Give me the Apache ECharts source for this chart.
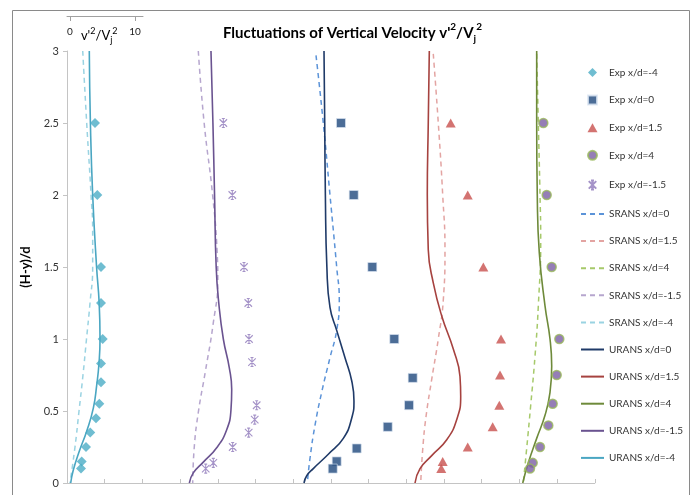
<!DOCTYPE html>
<html><head><meta charset="utf-8">
<script src="https://cdn.jsdelivr.net/npm/echarts@6.0.0/dist/echarts.min.js"></script>
<style>html,body{margin:0;padding:0;background:#fff}#c{width:694px;height:495px}</style>
</head><body><div id="c"></div>
<script>
// x: position along the horizontal axis in v'^2/Vj^2 units (each station shifted), y: (H-y)/d
const yTicks = [0, 0.5, 1, 1.5, 2, 2.5, 3];

const expM4X = [4.31, 4.66, 5.23, 5.23, 5.49, 5.23, 5.23, 4.97, 4.46, 3.58, 2.92, 2.26, 2.15];
const expM4Y = [2.5, 2.0, 1.5, 1.25, 1.0, 0.83, 0.7, 0.55, 0.45, 0.35, 0.25, 0.15, 0.1];
const expM15X = [24.05, 25.43, 27.23, 27.89, 28.0, 28.46, 29.18, 28.88, 27.95, 25.49, 22.51, 21.34];
const expM15Y = [2.5, 2.0, 1.5, 1.25, 1.0, 0.84, 0.54, 0.44, 0.35, 0.25, 0.14, 0.1];
const exp0X = [42.15, 44.11, 46.97, 50.35, 53.18, 52.62, 49.34, 44.57, 41.49, 40.88];
const exp0Y = [2.5, 2.0, 1.5, 1.0, 0.73, 0.54, 0.39, 0.24, 0.15, 0.1];
const exp15X = [59.03, 61.65, 64.05, 66.77, 66.62, 66.51, 65.49, 61.65, 57.8, 57.58];
const exp15Y = [2.5, 2.0, 1.5, 1.0, 0.75, 0.54, 0.39, 0.25, 0.15, 0.1];
const exp4X = [73.28, 73.8, 74.57, 75.74, 75.34, 74.72, 74.05, 72.77, 71.65, 71.23];
const exp4Y = [2.5, 2.0, 1.5, 1.0, 0.75, 0.55, 0.4, 0.25, 0.14, 0.1];

const uransM4X = [3.43, 3.6, 3.95, 4.55, 4.95, 5.08, 4.92, 4.57, 4.05, 3.03, 1.89, 0.97, 0.57];
const uransM4Y = [3, 2.5, 2.0, 1.5, 1.25, 1.0, 0.83, 0.68, 0.52, 0.36, 0.22, 0.09, 0];
const sransM4X = [2.42, 3.03, 3.7, 3.95, 3.95, 3.54, 3.0, 2.46, 1.85, 1.23, 0.46];
const sransM4Y = [3, 2.5, 2.0, 1.75, 1.5, 1.25, 1.0, 0.75, 0.5, 0.25, 0];

const uransM15X = [22.15, 22.45, 22.7, 22.95, 23.35, 24.05, 24.97, 25.34, 25.23, 24.57, 23.03, 20.97, 19.43, 18.82];
const uransM15Y = [3, 2.5, 2.0, 1.5, 1.25, 1.0, 0.8, 0.65, 0.51, 0.37, 0.245, 0.145, 0.07, 0];
const sransM15X = [20.2, 21.1, 22.4, 23.1, 23.2, 22.5, 21.23, 20.2, 19.58, 19.34];
const sransM15Y = [3, 2.5, 2.0, 1.6, 1.41, 1.11, 0.76, 0.49, 0.25, 0];

const urans0X = [39.54, 39.65, 39.75, 39.98, 40.46, 41.49, 42.77, 43.8, 44.15, 43.8, 42.51, 40.2, 37.89, 36.88, 36.46];
const urans0Y = [3, 2.5, 2.0, 1.5, 1.22, 1.06, 0.87, 0.71, 0.57, 0.45, 0.31, 0.2, 0.1, 0.05, 0];
const srans0X = [38.31, 39.43, 40.46, 41.49, 41.89, 41.49, 40.46, 39.18, 38.15, 37.38, 36.97];
const srans0Y = [2.97, 2.5, 2.0, 1.5, 1.27, 1.06, 0.87, 0.63, 0.4, 0.17, 0];

const urans15X = [55.74, 55.58, 55.43, 55.58, 56.35, 57.65, 59.43, 60.46, 60.57, 59.95, 58.42, 56.11, 54.31, 53.54];
const urans15Y = [3, 2.5, 2.0, 1.62, 1.39, 1.16, 0.93, 0.74, 0.6, 0.44, 0.3, 0.19, 0.1, 0];
const srans15X = [56.35, 57.12, 57.8, 58.15, 57.89, 57.12, 56.11, 55.23, 54.72, 54.42];
const srans15Y = [2.98, 2.5, 2.0, 1.62, 1.27, 1.0, 0.72, 0.46, 0.23, 0];

const urans4X = [72.26, 72.26, 72.35, 72.66, 73.54, 74.31, 74.57, 74.31, 73.54, 72.26, 70.97, 70.11];
const urans4Y = [3, 2.5, 2.0, 1.6, 1.23, 1.0, 0.81, 0.63, 0.47, 0.31, 0.14, 0];
const srans4X = [72.26, 72.51, 72.77, 72.88, 72.51, 72.0, 71.34, 70.72, 70.2];
const srans4Y = [2.98, 2.5, 2.0, 1.69, 1.23, 0.88, 0.54, 0.24, 0];

const scaleTicks = [0, 10];

const legendOrder = ['Exp x/d=-4', 'Exp x/d=0', 'Exp x/d=1.5', 'Exp x/d=4', 'Exp x/d=-1.5',
  'SRANS x/d=0', 'SRANS x/d=1.5', 'SRANS x/d=4', 'SRANS x/d=-1.5', 'SRANS x/d=-4',
  'URANS x/d=0', 'URANS x/d=1.5', 'URANS x/d=4', 'URANS x/d=-1.5', 'URANS x/d=-4'];

const FONT = 'Lato';
const pairs = (xs, ys) => xs.map((x, i) => [x, ys[i]]);

function lineS(name, xs, ys, color, dashed) {
  return {
    type: 'line', name, data: pairs(xs, ys), symbol: 'none', showSymbol: false,
    smooth: 0.5, clip: false, z: 2,
    lineStyle: { color, width: dashed ? 1.5 : 1.6, type: dashed ? [5, 4] : 'solid' },
    itemStyle: { color }
  };
}
function scat(name, xs, ys, symbol, size, itemStyle) {
  return { type: 'scatter', name, data: pairs(xs, ys), symbol, symbolSize: size, symbolKeepAspect: true, itemStyle, clip: false, z: 4 };
}
const starPath = 'path://M0,0L10,10M10,0L0,10M5,-1L5,11M3,-1L7,-1M3,11L7,11';
const diamondPath = 'path://M5,0L10,5L5,10L0,5Z';
const squarePath = 'path://M0,0L10,0L10,10L0,10Z';
const trianglePath = 'path://M5,0L10,9L0,9Z';

const series = [
  lineS('SRANS x/d=0', srans0X, srans0Y, '#5B93D8', true),
  lineS('SRANS x/d=1.5', srans15X, srans15Y, '#E3A4A2', true),
  lineS('SRANS x/d=4', srans4X, srans4Y, '#A6C96A', true),
  lineS('SRANS x/d=-1.5', sransM15X, sransM15Y, '#B6A6CE', true),
  lineS('SRANS x/d=-4', sransM4X, sransM4Y, '#9AD3E2', true),
  lineS('URANS x/d=0', urans0X, urans0Y, '#1F3A68', false),
  lineS('URANS x/d=1.5', urans15X, urans15Y, '#A6423F', false),
  lineS('URANS x/d=4', urans4X, urans4Y, '#6E8A3A', false),
  lineS('URANS x/d=-1.5', uransM15X, uransM15Y, '#6A5390', false),
  lineS('URANS x/d=-4', uransM4X, uransM4Y, '#4AA6C2', false),
  scat('Exp x/d=-4', expM4X, expM4Y, diamondPath, 10, { color: '#4BACC6' }),
  scat('Exp x/d=0', exp0X, exp0Y, squarePath, 9, { color: '#1F497D', borderColor: '#DCE6F2', borderWidth: 0.8 }),
  scat('Exp x/d=1.5', exp15X, exp15Y, trianglePath, 10, { color: '#C8504D' }),
  scat('Exp x/d=4', exp4X, exp4Y, 'circle', 9, { color: '#7B5EA4', borderColor: '#9AB95C', borderWidth: 1.5 }),
  scat('Exp x/d=-1.5', expM15X, expM15Y, starPath, 9, { color: 'none', borderColor: '#8E78BA', borderWidth: 1.1 })
];

const legendData = legendOrder.map(n => n.startsWith('Exp')
  ? { name: n }
  : { name: n, itemStyle: { opacity: 0 } });

const option = {
  backgroundColor: '#fff',
  animation: false,
  textStyle: { fontFamily: FONT },
  title: {
    left: 218, top: 17,
    text: "{a|Fluctuations of Vertical Velocity v'}{s|2}{a|/V}{j|j}{s|2}",
    textStyle: {
      rich: {
        a: { fontFamily: FONT, fontSize: 15, fontWeight: 'bold', color: '#000', lineHeight: 22 },
        s: { fontFamily: FONT, fontSize: 10, fontWeight: 'bold', color: '#000', verticalAlign: 'top', lineHeight: 22 },
        j: { fontFamily: FONT, fontSize: 10, fontWeight: 'bold', color: '#000', verticalAlign: 'bottom', lineHeight: 22 }
      }
    }
  },
  graphic: [{
    type: 'rect', silent: true, z: -10,
    shape: { x: 12.5, y: 10.5, width: 677, height: 500 },
    style: { fill: 'none', stroke: '#8a8a8a', lineWidth: 1 }
  }],
  legend: {
    orient: 'vertical', left: 575, top: 62.5,
    itemWidth: 23, itemHeight: 9, itemGap: 17.1,
    data: legendData,
    textStyle: { fontFamily: FONT, fontSize: 10, color: '#333' }
  },
  grid: [
    { left: 67, top: 51, width: 527.8, height: 432 },
    { left: 67, top: 6, width: 76, height: 10 }
  ],
  xAxis: [{
    type: 'value', gridIndex: 0, position: 'top', min: 0, max: 81.2, interval: 5.8,
    axisLine: { show: true, lineStyle: { color: '#C4C4C4', width: 1 } },
    axisTick: { show: true, length: 4, lineStyle: { color: '#C4C4C4' } },
    axisLabel: { show: false }, splitLine: { show: false }
  }, {
    type: 'value', gridIndex: 1, position: 'bottom', min: -0.46, max: 11.23,
    axisLine: { show: true, lineStyle: { color: '#A0A0A0', width: 1 } },
    axisTick: { show: true, length: 5, customValues: scaleTicks, lineStyle: { color: '#A0A0A0' } },
    axisLabel: {
      show: true, customValues: [0, 4.5, 10], margin: 11, color: '#222', fontFamily: FONT, fontSize: 10,
      formatter: v => (v === 0 || v === 10) ? String(v) : "{a|v'}{s|2}{a|/V}{j|j}{s|2}",
      rich: {
        a: { fontFamily: FONT, fontSize: 13, color: '#000', lineHeight: 18 },
        s: { fontFamily: FONT, fontSize: 9, color: '#000', verticalAlign: 'top', lineHeight: 18 },
        j: { fontFamily: FONT, fontSize: 9, color: '#000', verticalAlign: 'bottom', lineHeight: 18 }
      }
    },
    splitLine: { show: false }
  }],
  yAxis: [{
    type: 'value', gridIndex: 0, min: 0, max: 3, interval: 0.5,
    name: '(H-y)/d', nameLocation: 'middle', nameGap: 34,
    nameTextStyle: { fontFamily: FONT, fontSize: 13, fontWeight: 'bold', color: '#000' },
    axisLine: { show: true, lineStyle: { color: '#C4C4C4', width: 1 } },
    axisTick: { show: true, length: 4, lineStyle: { color: '#C4C4C4' } },
    axisLabel: { margin: 8, fontFamily: FONT, fontSize: 11, color: '#333', formatter: v => String(v) },
    splitLine: { show: false }
  }, {
    type: 'value', gridIndex: 1, min: 0, max: 1, show: false
  }],
  series
};

const chart = echarts.init(document.getElementById('c'), null, { renderer: 'canvas' });
chart.setOption(option);
</script>
</body></html>
